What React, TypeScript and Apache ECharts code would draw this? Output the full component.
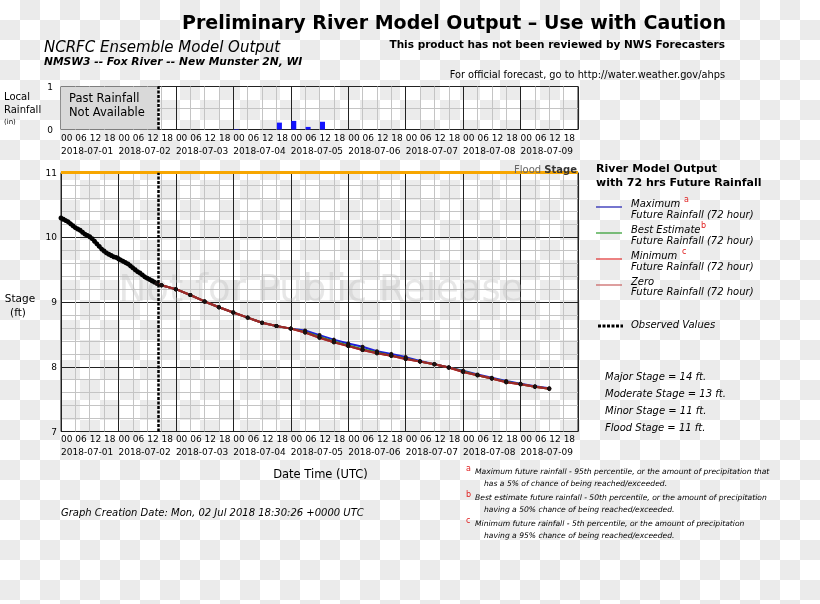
import React, { useEffect, useRef } from "react";
import * as echarts from "echarts";

const FONT = '"DejaVu Sans", sans-serif';

const dayLabels = [
  "2018-07-01", "2018-07-02", "2018-07-03", "2018-07-04", "2018-07-05",
  "2018-07-06", "2018-07-07", "2018-07-08", "2018-07-09",
];
const hourLabels = ["00", "06", "12", "18"];

// observed stage, hourly from 2018-07-01 00Z
const observedStage = [
  10.30, 10.28, 10.26, 10.24, 10.21, 10.18, 10.15, 10.13, 10.11, 10.08,
  10.05, 10.03, 10.01, 9.98, 9.94, 9.90, 9.86, 9.82, 9.79, 9.76,
  9.74, 9.72, 9.70, 9.69, 9.67, 9.65, 9.63, 9.61, 9.59, 9.56,
  9.53, 9.50, 9.47, 9.45, 9.42, 9.39, 9.37, 9.35, 9.33, 9.31, 9.29,
];

// forecast hours since 2018-07-01 00Z
const forecastHours = [
  40, 42, 48, 54, 60, 66, 72, 78, 84, 90, 96, 102, 108, 114, 120, 126, 132,
  138, 144, 150, 156, 162, 168, 174, 180, 186, 192, 198, 204,
];
const maxStage = [
  9.29, 9.26, 9.20, 9.11, 9.01, 8.92, 8.84, 8.76, 8.68, 8.63, 8.59, 8.56, 8.49,
  8.42, 8.36, 8.31, 8.24, 8.20, 8.15, 8.09, 8.04, 7.99, 7.94, 7.88, 7.83, 7.78,
  7.74, 7.70, 7.67,
];
const bestStage = [
  9.29, 9.26, 9.20, 9.11, 9.01, 8.92, 8.84, 8.76, 8.68, 8.63, 8.59, 8.54, 8.46,
  8.39, 8.33, 8.27, 8.22, 8.17, 8.13, 8.08, 8.04, 7.99, 7.93, 7.87, 7.82, 7.77,
  7.73, 7.69, 7.66,
];
const minStage = [
  9.29, 9.26, 9.20, 9.11, 9.01, 8.92, 8.84, 8.76, 8.68, 8.63, 8.59, 8.53, 8.45,
  8.38, 8.32, 8.26, 8.21, 8.17, 8.12, 8.08, 8.04, 7.99, 7.92, 7.87, 7.82, 7.76,
  7.73, 7.69, 7.66,
];
const zeroStage = [
  9.29, 9.26, 9.20, 9.11, 9.01, 8.92, 8.84, 8.76, 8.68, 8.63, 8.59, 8.53, 8.45,
  8.38, 8.32, 8.26, 8.21, 8.17, 8.12, 8.08, 8.04, 7.99, 7.92, 7.87, 7.82, 7.76,
  7.73, 7.69, 7.66,
];

// 6-hour rainfall bins (start hour) and amounts (in)
const rainBinStart = [72, 90, 96, 102, 108];
const rainInches = [0.01, 0.16, 0.2, 0.06, 0.18];

const observedEndHour = 40.5;
const floodStage = 11;
const axisEndHour = 216;

const stageNotes = [
  "Major Stage = 14 ft.",
  "Moderate Stage = 13 ft.",
  "Minor Stage = 11 ft.",
  "Flood Stage = 11 ft.",
];

function hourLabel(v: number) {
  const h = Math.round(v);
  if (h >= axisEndHour) return "";
  return hourLabels[(h % 24) / 6];
}
function dayLabel(v: number) {
  const d = Math.round(v / 24);
  return d < dayLabels.length ? dayLabels[d] : "";
}

function txt(x: number, y: number, text: string, font: string, extra: any = {}) {
  return {
    type: "text",
    x,
    y,
    z: 10,
    style: {
      text,
      font,
      fill: extra.fill || "#000",
      textAlign: extra.align || "left",
      textVerticalAlign: "middle",
    },
  };
}

function lineEl(x1: number, y1: number, x2: number, y2: number, stroke: string, w: number, dash?: number[]) {
  return {
    type: "line",
    z: 10,
    shape: { x1, y1, x2, y2 },
    style: { stroke, lineWidth: w, lineDash: dash },
  };
}

const MINOR = "#c4c4c4";
const MAJOR = "#222";

export default function App() {
  const ref = useRef<HTMLDivElement>(null);
  useEffect(() => {
    if (!ref.current) return;
    const chart = echarts.init(ref.current, null, { renderer: "svg" });

    const labelBase = {
      align: "left",
      fontFamily: FONT,
      fontSize: 9,
      color: "#000",
      showMinLabel: true,
      showMaxLabel: true,
      hideOverlap: false,
    };
    const hourAxis = (gridIndex: number, margin: number) => ({
      type: "value",
      gridIndex,
      position: "bottom",
      min: 0,
      max: axisEndHour,
      interval: 6,
      axisLine: { show: false },
      axisTick: { show: false },
      splitLine: {
        show: true,
        lineStyle: { color: [MAJOR, MINOR, MINOR, MINOR], width: 1 },
      },
      axisLabel: { ...labelBase, formatter: hourLabel, margin },
    });
    const dayAxis = (gridIndex: number, margin: number) => ({
      type: "value",
      gridIndex,
      position: "bottom",
      offset: 13,
      min: 0,
      max: axisEndHour,
      interval: 24,
      axisLine: { show: false },
      axisTick: { show: false },
      splitLine: { show: false },
      axisLabel: { ...labelBase, formatter: dayLabel, margin },
    });

    const fcstSeries = (name: string, vals: number[], color: string) => ({
      name,
      type: "line",
      xAxisIndex: 1,
      yAxisIndex: 1,
      data: forecastHours.map((h, i) => [h, vals[i]]),
      symbol: "circle",
      symbolSize: 4,
      showSymbol: true,
      itemStyle: { color: "#1a1010" },
      lineStyle: { color, width: 2 },
      silent: true,
    });

    const legendItems = [
      { y: 207, color: "#1c1cb0", t1: "Maximum", sup: "a", supX: 684, t1y: 203, t2y: 214 },
      { y: 233, color: "#2a9a2a", t1: "Best Estimate", sup: "b", supX: 701, t1y: 229, t2y: 240 },
      { y: 259, color: "#e03030", t1: "Minimum", sup: "c", supX: 682, t1y: 255, t2y: 266 },
      { y: 285, color: "#c86060", t1: "Zero", sup: "", supX: 0, t1y: 281, t2y: 291 },
    ];

    const graphics: any[] = [
      {
        type: "text",
        x: 321,
        y: 288,
        z: 1,
        style: {
          text: "Not for Public Release",
          font: `37px ${FONT}`,
          fill: "rgba(185,185,185,0.35)",
          textAlign: "center",
          textVerticalAlign: "middle",
        },
      },
      txt(454, 22, "Preliminary River Model Output \u2013 Use with Caution", `bold 19px ${FONT}`, { align: "center" }),
      txt(725, 44, "This product has not been reviewed by NWS Forecasters", `bold 10.5px ${FONT}`, { align: "right" }),
      txt(725, 74, "For official forecast, go to http://water.weather.gov/ahps", `9.8px ${FONT}`, { align: "right" }),
      txt(44, 47, "NCRFC Ensemble Model Output", `italic 15px ${FONT}`),
      txt(44, 61, "NMSW3 -- Fox River -- New Munster 2N, WI", `italic bold 10.7px ${FONT}`),
      txt(4, 96, "Local", `10px ${FONT}`),
      txt(4, 109, "Rainfall", `10px ${FONT}`),
      txt(4, 122, "(in)", `7px ${FONT}`),
      txt(69, 98, "Past Rainfall", `11.5px ${FONT}`),
      txt(69, 112, "Not Available", `11.5px ${FONT}`),
      txt(20, 298, "Stage", `10.5px ${FONT}`, { align: "center" }),
      txt(18, 312, "(ft)", `10.5px ${FONT}`, { align: "center" }),
      txt(320.5, 474, "Date Time (UTC)", `11.5px ${FONT}`, { align: "center" }),
      {
        type: "text",
        x: 577,
        y: 169,
        z: 10,
        style: {
          text: "{a|Flood }{b|Stage}",
          rich: {
            a: { font: `10px ${FONT}`, fill: "#666" },
            b: { font: `bold 10px ${FONT}`, fill: "#333" },
          },
          textAlign: "right",
          textVerticalAlign: "middle",
        },
      },
      txt(596, 168, "River Model Output", `bold 11px ${FONT}`),
      txt(596, 182, "with 72 hrs Future Rainfall", `bold 11px ${FONT}`),
      lineEl(598, 326, 623, 326, "#000", 3, [3, 1.5]),
      txt(631, 324, "Observed Values", `italic 10px ${FONT}`),
      txt(61, 512, "Graph Creation Date: Mon, 02 Jul 2018 18:30:26 +0000 UTC", `italic 10px ${FONT}`),
    ];
    legendItems.forEach((it) => {
      graphics.push(lineEl(596, it.y, 622, it.y, it.color, 1.2));
      graphics.push(txt(631, it.t1y, it.t1, `italic 10px ${FONT}`));
      graphics.push(txt(631, it.t2y, "Future Rainfall (72 hour)", `italic 10px ${FONT}`));
      if (it.sup) graphics.push(txt(it.supX, it.t1y - 4, it.sup, `8px ${FONT}`, { fill: "#e02020" }));
    });
    stageNotes.forEach((s, i) => {
      graphics.push(txt(605, 376 + i * 17.3, s, `italic 10px ${FONT}`));
    });
    const notes = [
      ["a", "Maximum future rainfall - 95th percentile, or the amount of precipitation that", "has a 5% of chance of being reached/exceeded."],
      ["b", "Best estimate future rainfall - 50th percentile, or the amount of precipitation", "having a 50% chance of being reached/exceeded."],
      ["c", "Minimum future rainfall - 5th percentile, or the amount of precipitation", "having a 95% chance of being reached/exceeded."],
    ];
    notes.forEach((n, i) => {
      const y0 = 471 + i * 26;
      graphics.push(txt(466, y0 - 3, n[0], `8px ${FONT}`, { fill: "#e02020" }));
      graphics.push(txt(475, y0, n[1], `italic 7.6px ${FONT}`));
      graphics.push(txt(484, y0 + 12.5, n[2], `italic 7.6px ${FONT}`));
    });

    const yLabelFmt = (v: number) => (Math.abs(v - Math.round(v)) < 1e-6 ? String(Math.round(v)) : "");

    chart.setOption({
      animation: false,
      grid: [
        { left: 61, top: 86.5, width: 517, height: 43, show: true, borderColor: MAJOR, borderWidth: 1, backgroundColor: "transparent", outerBoundsMode: "none" },
        { left: 61, top: 172.7, width: 517, height: 258.8, show: true, borderColor: MAJOR, borderWidth: 1, backgroundColor: "transparent", outerBoundsMode: "none" },
      ],
      xAxis: [hourAxis(0, 4), hourAxis(1, 3), dayAxis(0, 4), dayAxis(1, 3)],
      yAxis: [
        {
          type: "value",
          gridIndex: 0,
          min: 0,
          max: 1,
          interval: 0.5,
          axisLine: { show: false },
          axisTick: { show: false },
          splitLine: { show: true, lineStyle: { color: [MAJOR, MINOR] } },
          axisLabel: {
            formatter: yLabelFmt,
            fontFamily: FONT,
            fontSize: 9,
            color: "#000",
            margin: 8,
            padding: [0, 0, 6, 0],
            showMinLabel: true,
            showMaxLabel: true,
          },
        },
        {
          type: "value",
          gridIndex: 1,
          min: 7,
          max: 11,
          interval: 0.2,
          axisLine: { show: false },
          axisTick: { show: false },
          splitLine: { show: true, lineStyle: { color: [MAJOR, MINOR, MINOR, MINOR, MINOR] } },
          axisLabel: {
            formatter: yLabelFmt,
            fontFamily: FONT,
            fontSize: 9,
            color: "#000",
            margin: 4,
            padding: [0, 0, 6, 0],
            showMinLabel: true,
            showMaxLabel: true,
          },
        },
      ],
      graphic: graphics,
      series: [
        {
          name: "Rainfall",
          type: "bar",
          xAxisIndex: 0,
          yAxisIndex: 0,
          data: rainBinStart.map((h, i) => [h + 1.25, rainInches[i]]),
          barWidth: 5,
          itemStyle: { color: "#1414ff" },
          silent: true,
          markArea: {
            silent: true,
            itemStyle: { color: "#d9d9d9" },
            data: [[{ xAxis: 0 }, { xAxis: observedEndHour }]],
          },
          markLine: {
            silent: true,
            symbol: "none",
            label: { show: false },
            lineStyle: { color: "#000", width: 2.5, type: [3, 1.5] },
            data: [{ xAxis: observedEndHour }],
          },
        },
        {
          name: "Observed",
          type: "line",
          xAxisIndex: 1,
          yAxisIndex: 1,
          data: observedStage.map((v, i) => [i, v]),
          symbol: "circle",
          symbolSize: 5,
          showSymbol: true,
          itemStyle: { color: "#000" },
          lineStyle: { color: "#000", width: 2 },
          silent: true,
          markLine: {
            silent: true,
            symbol: "none",
            label: { show: false },
            data: [
              { yAxis: floodStage, lineStyle: { color: "#f7a600", width: 3, type: "solid" } },
              { xAxis: observedEndHour, lineStyle: { color: "#000", width: 2.5, type: [3, 1.5] } },
            ],
          },
        },
        fcstSeries("Maximum", maxStage, "#2020d8"),
        fcstSeries("Best Estimate", bestStage, "#1a9a1a"),
        fcstSeries("Minimum", minStage, "#e02020"),
        fcstSeries("Zero", zeroStage, "#9a2a2a"),
      ],
    });
    return () => chart.dispose();
  }, []);

  return (
    <div
      ref={ref}
      style={{
        position: "fixed",
        left: 0,
        top: 0,
        width: 820,
        height: 604,
        backgroundImage: "repeating-conic-gradient(#ebebeb 0% 25%, #ffffff 0% 50%)",
        backgroundSize: "40px 40px",
      }}
    />
  );
}
